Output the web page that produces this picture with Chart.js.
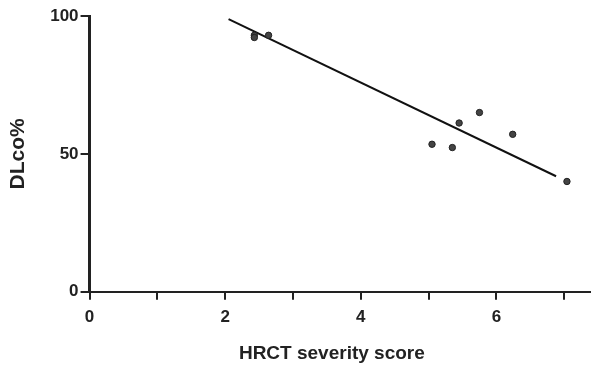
<!DOCTYPE html>
<html>
<head>
<meta charset="utf-8">
<script src="https://cdn.jsdelivr.net/npm/chart.js@4/dist/chart.umd.min.js"></script>
<style>
  body { margin: 0; background: #fff; }
  canvas { display: block; }
</style>
</head>
<body>
<canvas id="dlcoChart" width="595" height="370"></canvas>
<script>
// values
const severityScore = [2.43, 2.43, 2.64, 5.05, 5.35, 5.45, 5.75, 6.24, 7.04];
const dlcoPercent = [93.0, 92.2, 93.0, 53.5, 52.3, 61.2, 65.0, 57.1, 40.0];
// regression line end points
const fitX = [2.05, 6.88];
const fitY = [98.9, 41.9];
const xTicks = [0, 1, 2, 3, 4, 5, 6, 7];
const yTicks = [0, 50, 100];

const ink = '#222';
const font = { family: '"Liberation Sans", Arial, sans-serif', weight: 'bold' };

// build point objects for the scatter
const points = severityScore.map((x, i) => ({ x: x, y: dlcoPercent[i] }));
const fitLine = fitX.map((x, i) => ({ x: x, y: fitY[i] }));

const ctx = document.querySelector('#dlcoChart').getContext('2d');
new Chart(ctx, {
    type: 'scatter',
    data: {
        datasets: [{
            label: 'patients',
            data: points,
            pointRadius: 3.2,
            backgroundColor: '#444',
            borderColor: '#222',
            borderWidth: 1
        }, {
            label: 'fit',
            type: 'line',
            data: fitLine,
            showLine: true,
            pointRadius: 0,
            borderColor: '#111',
            borderWidth: 2
        }]
    },
    options: {
        responsive: false,
        animation: false,
        layout: { padding: { top: 16, right: -5, left: 6, bottom: 5 } },
        plugins: {
            legend: { display: false },
            tooltip: { enabled: false }
        },
        scales: {
            x: {
                type: 'linear',
                min: 0,
                max: 7.38,
                afterBuildTicks: axis => { axis.ticks = xTicks.map(v => ({ value: v })); },
                grid: { drawOnChartArea: false, drawTicks: true, tickLength: 8, color: ink, lineWidth: 2 },
                border: { display: true, color: ink, width: 2 },
                ticks: {
                    color: ink,
                    font: { ...font, size: 17 },
                    padding: 7,
                    maxRotation: 0,
                    autoSkip: false,
                    callback: v => (v % 2 === 0 ? v : '')
                },
                title: {
                    display: true,
                    // trailing spaces nudge the centred title a bit to the left
                    text: 'HRCT severity score\u00a0\u00a0\u00a0',
                    color: ink,
                    font: { ...font, size: 19 },
                    padding: { top: 8, bottom: 0 }
                }
            },
            y: {
                min: 0,
                max: 100,
                afterBuildTicks: axis => { axis.ticks = yTicks.map(v => ({ value: v })); },
                grid: { drawOnChartArea: false, drawTicks: true, tickLength: 9, color: ink, lineWidth: 2 },
                border: { display: true, color: ink, width: 3 },
                ticks: {
                    color: ink,
                    font: { ...font, size: 17 },
                    padding: 2
                },
                title: {
                    display: true,
                    text: 'DLco%',
                    color: ink,
                    font: { ...font, size: 21 },
                    padding: { top: 0, bottom: 17 }
                }
            }
        }
    }
});
</script>
</body>
</html>
